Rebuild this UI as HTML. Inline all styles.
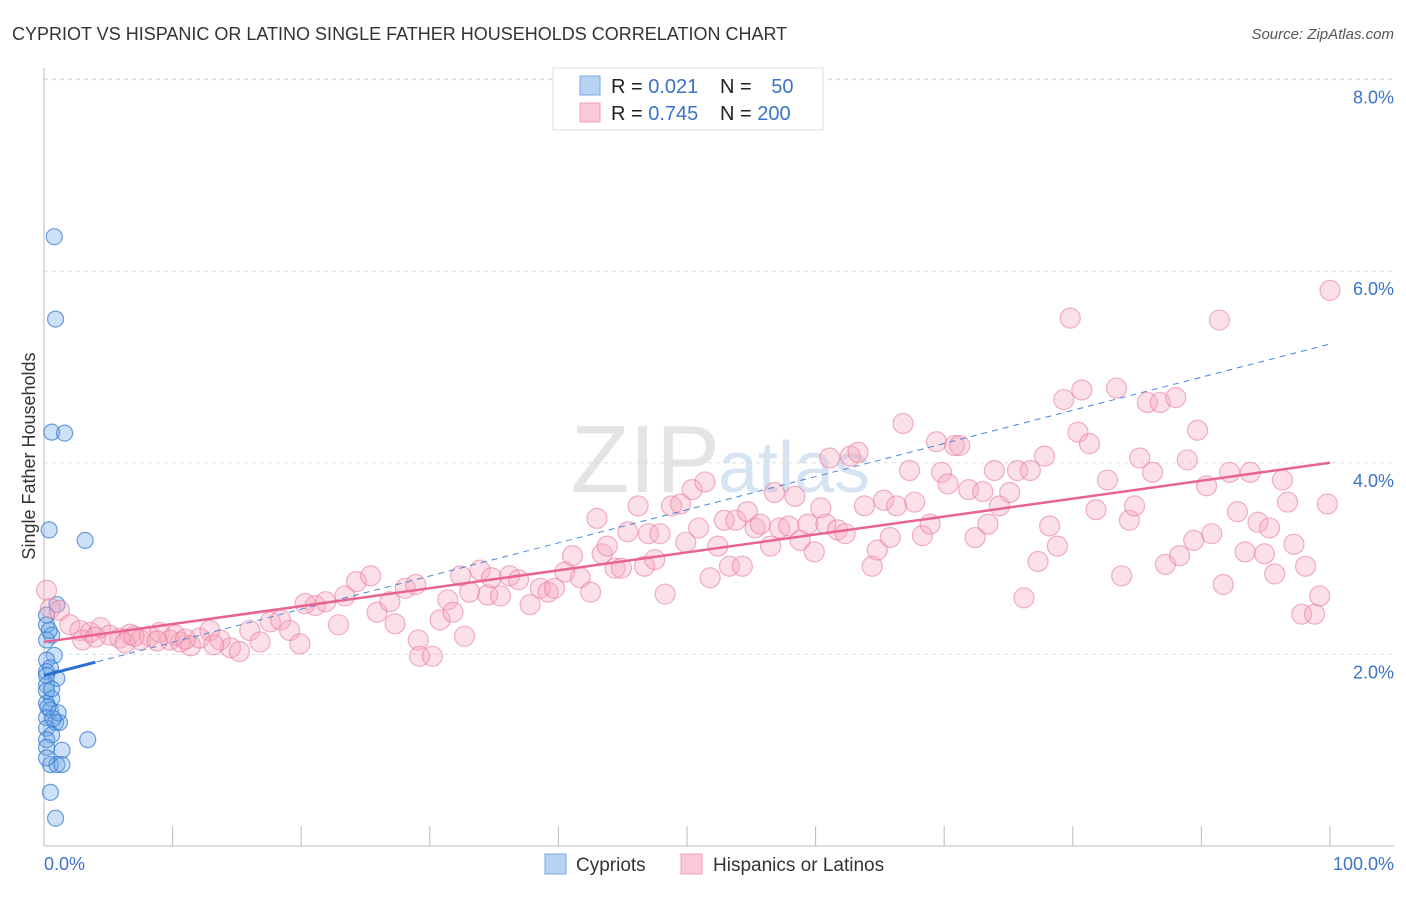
<!DOCTYPE html>
<html><head><meta charset="utf-8"><style>
body{margin:0;background:#fff;font-family:"Liberation Sans",sans-serif;}
svg text{font-family:"Liberation Sans",sans-serif;}
</style></head><body>
<svg id="chart" width="1406" height="892">
<text x="12" y="40" font-size="18" fill="#333">CYPRIOT VS HISPANIC OR LATINO SINGLE FATHER HOUSEHOLDS CORRELATION CHART</text>
<text x="1394" y="39" font-size="15" fill="#555" font-style="italic" text-anchor="end">Source: ZipAtlas.com</text>
<text x="720" y="492" font-size="96" fill="#e4e4e4" text-anchor="end" font-family="Liberation Serif">ZIP</text>
<text x="718" y="492" font-size="72" fill="#d6e3f3">atlas</text>
<g id="grid"></g>
<g id="axes"></g>
<g id="blue"></g>
<g id="pink"></g>
<g id="trend"></g>
<text transform="translate(35,456) rotate(-90)" font-size="18" fill="#333" text-anchor="middle">Single Father Households</text>
<text x="44" y="870" font-size="18" fill="#3b73c9">0.0%</text>
<text x="1394" y="870" font-size="18" fill="#3b73c9" text-anchor="end">100.0%</text>
<g>
<rect x="553" y="68" width="270" height="62" fill="#fff" stroke="#ddd"/>
<rect x="580" y="76" width="20" height="19" fill="#b7d2f3" stroke="#7aaae6"/>
<rect x="580" y="103" width="20" height="19" fill="#fac9d8" stroke="#eea0b8"/>
<text x="611" y="93" font-size="20" fill="#222">R = <tspan fill="#3b73c9">0.021</tspan></text>
<text x="720" y="93" font-size="20" fill="#222">N = <tspan fill="#3b73c9" dx="14">50</tspan></text>
<text x="611" y="120" font-size="20" fill="#222">R = <tspan fill="#3b73c9">0.745</tspan></text>
<text x="720" y="120" font-size="20" fill="#222">N = <tspan fill="#3b73c9">200</tspan></text>
</g>
<g>
<rect x="545" y="854" width="21" height="20" fill="#b7d2f3" stroke="#7aaae6"/>
<text x="576" y="871" font-size="19" fill="#333">Cypriots</text>
<rect x="681" y="854" width="21" height="20" fill="#fac9d8" stroke="#eea0b8"/>
<text x="713" y="871" font-size="19" fill="#333">Hispanics or Latinos</text>
</g>
</svg>
<script>
const yTicks=[2,4,6,8];
const yTickLabels=["2.0%","4.0%","6.0%","8.0%"];
const xTicks=[10,20,30,40,50,60,70,80,90,100];
const pinkX=[0.2,0.5,1.2,2.0,2.8,3.6,4.4,5.1,5.9,6.7,7.5,8.2,9.0,9.8,10.6,11.4,12.1,12.9,13.7,14.5,15.2,16.0,16.8,17.6,18.4,19.1,19.9,20.3,21.1,21.9,22.9,23.4,24.3,25.4,25.9,26.9,27.3,28.1,28.9,29.1,29.2,30.2,30.8,31.4,31.8,32.4,32.7,33.1,33.9,34.5,34.8,35.5,36.2,36.9,37.8,38.6,39.2,39.7,40.5,41.1,41.7,42.5,43.0,43.4,43.8,44.4,44.9,45.4,46.2,46.7,47.0,47.5,47.9,48.3,48.8,49.5,49.9,50.4,50.9,51.4,51.8,52.4,52.9,53.3,53.8,54.3,54.7,55.3,55.7,56.5,56.8,57.2,57.9,58.4,58.8,59.4,59.9,60.4,60.8,61.1,61.7,62.3,62.7,63.3,63.8,64.4,64.8,65.3,65.8,66.3,66.8,67.3,67.7,68.3,68.9,69.4,69.8,70.3,70.8,71.2,71.9,72.4,73.0,73.4,73.9,74.3,75.1,75.7,76.2,76.7,77.3,77.8,78.2,78.8,79.3,79.8,80.4,80.7,81.3,81.8,82.7,83.4,83.8,84.4,84.8,85.2,85.8,86.2,86.8,87.2,88.0,88.3,88.9,89.4,89.7,90.4,90.8,91.4,91.7,92.2,92.8,93.4,93.8,94.4,94.9,95.3,95.7,96.3,96.7,97.2,97.8,98.1,98.8,99.2,99.8,100,3.0,4.0,6.3,7.0,8.8,10.2,11.0,13.2];
const pinkY=[2.67,2.48,2.46,2.31,2.25,2.23,2.28,2.20,2.17,2.21,2.15,2.19,2.23,2.15,2.13,2.09,2.17,2.25,2.15,2.07,2.03,2.25,2.13,2.34,2.36,2.25,2.11,2.53,2.51,2.55,2.31,2.61,2.76,2.82,2.44,2.55,2.32,2.69,2.73,2.15,1.98,1.98,2.36,2.57,2.44,2.82,2.19,2.65,2.88,2.62,2.80,2.61,2.82,2.78,2.52,2.69,2.65,2.69,2.86,3.03,2.80,2.65,3.42,3.05,3.13,2.90,2.90,3.28,3.55,2.92,3.26,2.99,3.26,2.63,3.55,3.57,3.17,3.72,3.32,3.80,2.80,3.13,3.40,2.92,3.40,2.92,3.49,3.32,3.36,3.13,3.69,3.32,3.34,3.65,3.19,3.36,3.07,3.53,3.36,4.05,3.30,3.26,4.07,4.11,3.55,2.92,3.09,3.61,3.22,3.55,4.41,3.92,3.59,3.24,3.36,4.22,3.90,3.78,4.18,4.18,3.72,3.22,3.70,3.36,3.92,3.55,3.69,3.92,2.59,3.92,2.97,4.07,3.34,3.13,4.66,5.51,4.32,4.76,4.20,3.51,3.82,4.78,2.82,3.40,3.55,4.05,4.63,3.90,4.63,2.94,4.68,3.03,4.03,3.19,4.34,3.76,3.26,5.49,2.73,3.90,3.49,3.07,3.90,3.38,3.05,3.32,2.84,3.82,3.59,3.15,2.42,2.92,2.42,2.61,3.57,5.80,2.15,2.18,2.12,2.19,2.14,2.20,2.16,2.10];
const blueX=[0.8,0.9,0.6,1.6,0.4,3.2,1.0,0.2,0.2,0.6,0.2,0.8,0.2,0.5,0.2,1.0,0.2,0.6,0.2,0.5,0.2,0.9,1.2,0.2,0.6,0.2,3.4,1.4,0.5,1.0,1.4,0.5,0.9,0.2,0.6,0.2,1.1,0.2,0.4,0.2,0.7,0.3];
const blueY=[6.36,5.50,4.32,4.31,3.30,3.19,2.52,2.41,2.31,2.20,2.15,1.99,1.94,1.86,1.82,1.75,1.68,1.54,1.49,1.42,1.34,1.29,1.29,1.23,1.16,1.11,1.11,1.00,0.85,0.85,0.85,0.56,0.29,1.62,1.64,1.03,1.39,0.92,2.25,1.78,1.33,1.45];
const pinkTrend=[2.13,4.00];
const blueTrend=[1.78,5.24];
const blueSolidEnd=4;
const X0=44,X1=1330,Y0=846,YS=95.8;
const sx=v=>X0+(X1-X0)*v/100, sy=v=>Y0-v*YS;
const NS="http://www.w3.org/2000/svg";
function mk(t,p,a){const e=document.createElementNS(NS,t);for(const k in a)e.setAttribute(k,a[k]);p.appendChild(e);return e;}
const grid=document.getElementById('grid'),axes=document.getElementById('axes');
yTicks.forEach((t,i)=>{
 const l=mk('line',grid,{x1:44,x2:1394,y1:sy(t),y2:sy(t),stroke:'#ddd','stroke-dasharray':'4,4'});
 
 
 const tx=mk('text',grid,{x:1394,y:sy(t)+24,'font-size':18,fill:'#3b73c9','text-anchor':'end'});
 tx.textContent=yTickLabels[i];
 
 
});
const topGrid=mk('line',grid,{x1:44,x2:1394,y1:79,y2:79,stroke:'#ddd','stroke-dasharray':'4,4'});


const ya=mk('line',axes,{x1:44,x2:44,y1:68,y2:846,stroke:'#bbb'});


const xa=mk('line',axes,{x1:44,x2:1394,y1:846,y2:846,stroke:'#bbb'});


xTicks.forEach(t=>{
 const l=mk('line',axes,{x1:sx(t),x2:sx(t),y1:826,y2:846,stroke:'#bbb'});
 
 
});
const bg=document.getElementById('blue');
blueX.forEach((x,i)=>{
 const c=mk('circle',bg,{cx:sx(x),cy:sy(blueY[i]),r:8,fill:'rgba(110,165,230,0.35)',stroke:'rgba(50,120,210,0.7)','stroke-width':1.2});
 
 
});
const pg=document.getElementById('pink');
pinkX.forEach((x,i)=>{
 const c=mk('circle',pg,{cx:sx(x),cy:sy(pinkY[i]),r:10,fill:'rgba(245,165,190,0.35)',stroke:'rgba(232,125,160,0.6)','stroke-width':1.2});
 
 
});
const tg=document.getElementById('trend');
const bd=mk('line',tg,{x1:sx(0),y1:sy(blueTrend[0]),x2:sx(100),y2:sy(blueTrend[1]),stroke:'#4a86d8','stroke-width':1,'stroke-dasharray':'6,5'});


const bs=mk('line',tg,{x1:sx(0),y1:sy(blueTrend[0]),x2:sx(blueSolidEnd),y2:sy(blueTrend[0]+(blueTrend[1]-blueTrend[0])*blueSolidEnd/100),stroke:'#2a6fd0','stroke-width':3});


const pl=mk('line',tg,{x1:sx(0),y1:sy(pinkTrend[0]),x2:sx(100),y2:sy(pinkTrend[1]),stroke:'#e8648f','stroke-width':2.5});


</script>
</body></html>
